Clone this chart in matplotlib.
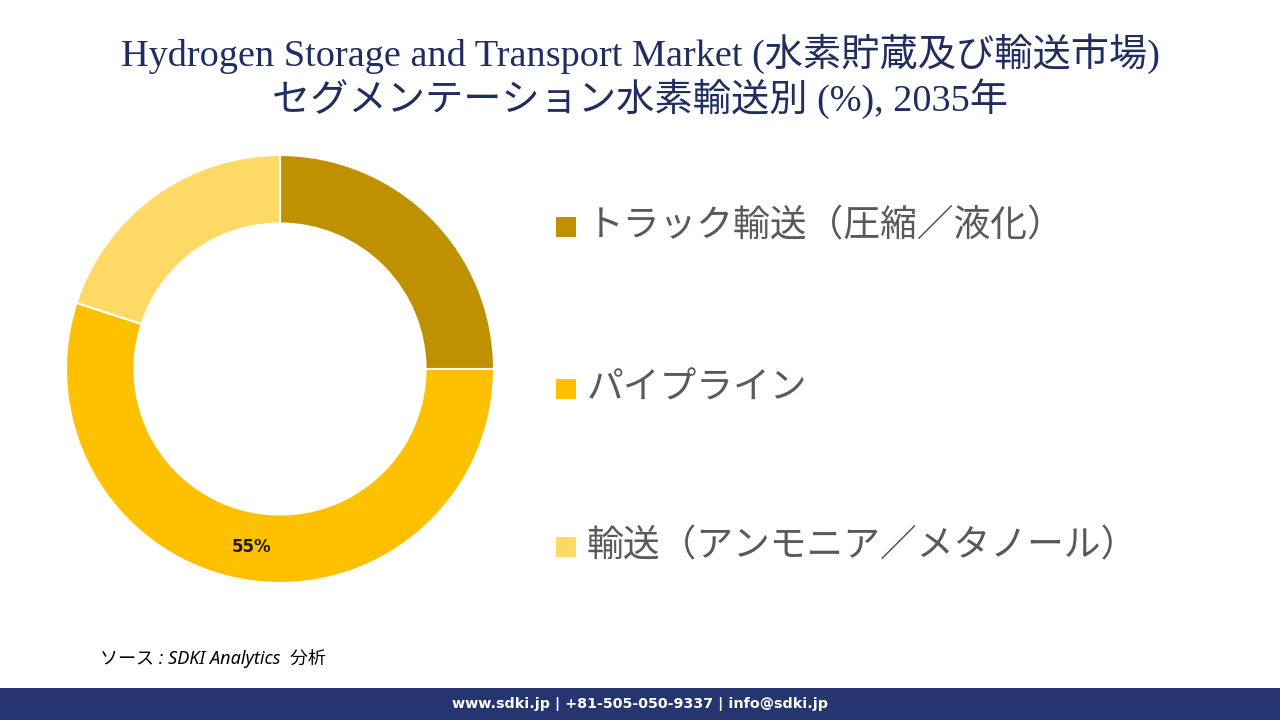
import matplotlib
matplotlib.use("Agg")
import matplotlib.pyplot as plt
from matplotlib.patches import Rectangle

categories = ["トラック輸送（圧縮／液化）", "パイプライン", "輸送（アンモニア／メタノール）"]
values = [25, 55, 20]
colors = ["#BF9000", "#FFC000", "#FFD966"]
title_line1 = "Hydrogen Storage and Transport Market (水素貯蔵及び輸送市場)"
title_line2 = "セグメンテーション水素輸送別 (%), 2035年"
source_text = "ソース : SDKI Analytics  分析"
footer_text = "www.sdki.jp | +81-505-050-9337 | info@sdki.jp"

W, H = 1280, 720
fig = plt.figure(figsize=(12.8, 7.2), dpi=100)
fig.patch.set_facecolor("white")

def fx(px):
    return px / W

def fy(py):
    return 1 - py / H

serif = ["Liberation Serif", "Noto Sans CJK JP"]
sans = ["Noto Sans CJK JP", "DejaVu Sans"]

# Title
fig.text(0.5, fy(54), title_line1, ha="center", va="center", fontsize=27.5,
         color="#1F2D5F", family=serif)
fig.text(0.5, fy(99), title_line2, ha="center", va="center", fontsize=27.5,
         color="#1F2D5F", family=serif)

# Donut
cx, cy, r = 280, 369, 214
ax = fig.add_axes([fx(cx - r), fy(cy + r), 2 * r / W, 2 * r / H])
ax.set_aspect("equal")


def pct(p):
    return f"{p:.0f}%" if p > 50 else ""


wedges, texts, autotexts = ax.pie(
    values, colors=colors, startangle=90, counterclock=False, radius=1,
    wedgeprops=dict(width=0.32, edgecolor="white", linewidth=1.5),
    autopct=pct, pctdistance=0.84,
    textprops=dict(fontsize=12, fontweight="bold", color="#1a1a1a", family=["DejaVu Sans"]))
ax.set_xlim(-1, 1)
ax.set_ylim(-1, 1)
ax.axis("off")

# Legend
leg_y = [227, 389, 547]
for cat, col, y in zip(categories, colors, leg_y):
    fig.patches.append(Rectangle((fx(556), fy(y + 10)), 20 / W, 20 / H,
                                 transform=fig.transFigure, facecolor=col,
                                 edgecolor="none"))
    fig.text(fx(587), fy(y - 1), cat, ha="left", va="center", fontsize=26.5,
             color="#595959", family=sans)

# Source
fig.text(fx(100), fy(658), source_text, ha="left", va="center", fontsize=13,
         style="italic", color="black", family=["Noto Sans", "Noto Sans CJK JP"])

# Footer bar
fig.patches.append(Rectangle((0, 0), 1, 32 / H, transform=fig.transFigure,
                             facecolor="#263570", edgecolor="none"))
fig.text(0.5, fy(704), footer_text, ha="center", va="center", fontsize=10.3,
         fontweight="bold", color="white", family=["DejaVu Sans"])

fig.savefig("out.png", dpi=100)
